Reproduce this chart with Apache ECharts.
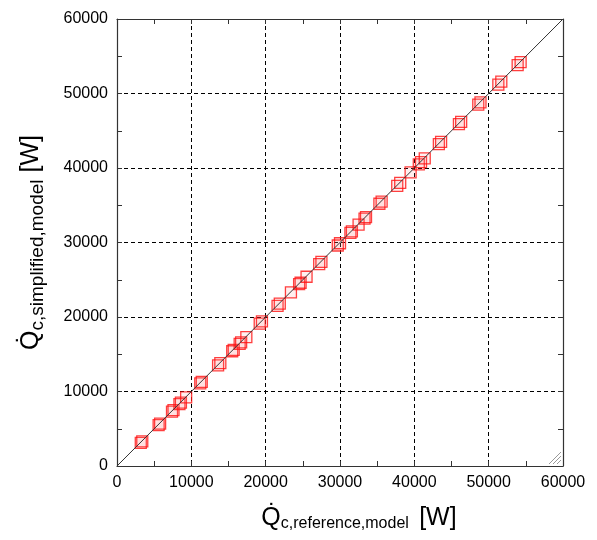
<!DOCTYPE html>
<html><head><meta charset="utf-8">
<script src="https://cdn.jsdelivr.net/npm/echarts@6/dist/echarts.min.js"></script>
<style>html,body{margin:0;padding:0;background:#fff}#c{width:597px;height:540px}</style>
</head><body><div id="c"></div>
<script>
// reference model heat rate [W]
var refModel = [3200,3400, 5600,5800, 7400,7600, 8400,8600, 9300, 11200,11400, 13600,13900, 15500,15700, 16500,16700, 17400, 19200,19500, 21600,21900, 23400, 24500,24700, 25500, 27200,27500, 29700,30000, 31400,31600, 32500, 33300,33500, 35300,35600, 37700,38100, 39500, 40600,40900, 41400, 43300,43600, 46000,46300, 48600,48900, 51300,51700, 53900,54300];
// simplified model heat rate [W]
var simModel = [3100,3300, 5500,5700, 7300,7500, 8300,8500, 9200, 11100,11300, 13500,13800, 15400,15600, 16400,16600, 17300, 19100,19400, 21500,21800, 23300, 24400,24600, 25400, 27100,27400, 29600,29900, 31300,31500, 32400, 33200,33400, 35200,35500, 37600,38000, 39400, 40500,40800, 41300, 43200,43500, 45900,46200, 48500,48800, 51200,51600, 53800,54200];
var diagLine = [[0,0],[60000,60000]];
var axisMin = 0, axisMax = 60000, axisStep = 10000;

var pts = refModel.map(function(v,i){return [v, simModel[i]];});
var chart = echarts.init(document.getElementById('c'));
var FF = 'Liberation Sans, Arial, sans-serif';
function ax(pos, showLabel){
  return {
    type:'value', position:pos, min:axisMin, max:axisMax, interval:axisStep,
    axisLine:{show:true, onZero:false, lineStyle:{color:'#333', width:1.2}},
    axisTick:{show:true, inside:true, length:5, lineStyle:{color:'#333'}},
    minorTick:{show:true, splitNumber:2, length:5, lineStyle:{color:'#333'}},
    axisLabel:{show:showLabel, fontFamily:FF, fontSize:16, color:'#000', margin:9,
      formatter:function(v){return String(v);}},
    splitLine:{show:showLabel, lineStyle:{color:'#000', type:[4,3], width:1}}
  };
}
function nameStyle(lead, qSize, sSize, sPad){
  return {fontFamily:FF, color:'#000', rich:{
    q0:{fontSize:qSize, fontFamily:FF, color:'#000', padding:[0,0,0,lead]},
    q:{fontSize:qSize, fontFamily:FF, color:'#000'},
    s:{fontSize:sSize, fontFamily:FF, color:'#000', padding:[sPad,0,0,0]}}};
}
var xa0 = ax('bottom', true), xa1 = ax('top', false);
var ya0 = ax('left', true), ya1 = ax('right', false);
xa0.name = '{q0|Q̇}{s|c,reference,model} {q| [W]}';
xa0.nameLocation = 'middle'; xa0.nameGap = 38;
xa0.nameTextStyle = nameStyle(38, 25, 16, 12);
ya0.name = '{q0|Q̇}{s|c,simplified,model}{q| [W]}';
ya0.nameLocation = 'middle'; ya0.nameGap = 70;
ya0.nameTextStyle = nameStyle(0, 25, 19, 13);
var option = {
  animation:false,
  backgroundColor:'#fff',
  grid:{left:117, right:34, top:19, bottom:74},
  xAxis:[xa0, xa1],
  yAxis:[ya0, ya1],
  series:[
    {type:'line', data:diagLine, showSymbol:false, symbol:'none', lineStyle:{color:'#333', width:1}, z:3},
    {type:'scatter', data:pts, symbol:'rect', symbolSize:11,
     itemStyle:{color:'rgba(255,120,120,0.15)', borderColor:'#ff1010', borderWidth:1.3}, z:2}
  ],
  graphic:[
    {type:'line', shape:{x1:561,y1:452,x2:549,y2:464}, style:{stroke:'#999', lineWidth:1}},
    {type:'line', shape:{x1:561,y1:456,x2:553,y2:464}, style:{stroke:'#999', lineWidth:1}},
    {type:'line', shape:{x1:561,y1:460,x2:557,y2:464}, style:{stroke:'#999', lineWidth:1}}
  ]
};
chart.setOption(option);
</script></body></html>
